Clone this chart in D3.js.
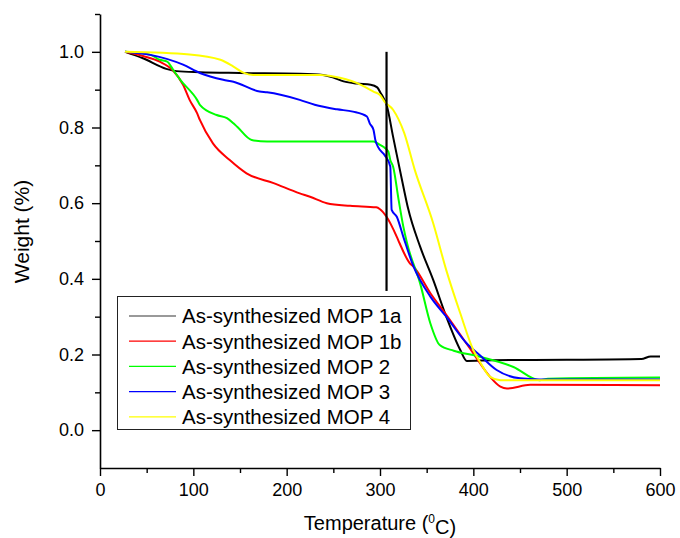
<!DOCTYPE html>
<html>
<head>
<meta charset="utf-8">
<script src="https://cdn.jsdelivr.net/npm/d3@7"></script>
<style>
    html, body { margin: 0; padding: 0; background: #fff; }
    svg { display: block; font-family: "Liberation Sans", Arial, sans-serif; }
</style>
</head>
<body>
<svg id="graph" width="680" height="538"></svg>
<script>
// TGA data: [temperature (°C), weight fraction]
const mop1a = [[26.8,1.0],[46,0.983],[71,0.955],[82,0.949],[107,0.946],[150,0.944],[214,0.942],[239,0.939],
    [250,0.932],[261,0.922],[275,0.916],[290,0.913],[297,0.906],[301,0.89],[304,0.877],[307,0.86],[314,0.776],
    [325,0.644],[330,0.587],[343,0.485],[357,0.397],[371,0.30],[386,0.212],[393,0.183],[420,0.185],[500,0.186],
    [580,0.188],[590,0.195],[600,0.195]];
const mop1b = [[26.8,1.0],[46,0.989],[64,0.974],[78.5,0.95],[89,0.913],[96,0.873],[104,0.838],[107,0.82],
    [121,0.758],[139,0.714],[157,0.679],[186,0.653],[214,0.626],[225,0.617],[243,0.60],[268,0.593],[296,0.589],
    [300,0.584],[307,0.564],[318,0.511],[321,0.494],[332,0.441],[336,0.432],[354,0.362],[371,0.305],[400,0.203],
    [418,0.141],[429,0.115],[436,0.110],[461,0.120],[600,0.119]];
const mop2 = [[26.8,1.0],[54,0.992],[64,0.979],[72,0.974],[78.5,0.952],[86,0.926],[104,0.873],[107,0.86],
    [125,0.833],[136,0.825],[143,0.811],[147,0.802],[162.5,0.767],[179,0.763],[293,0.763],[300,0.754],
    [303.5,0.749],[309,0.736],[311,0.714],[314,0.697],[320,0.608],[325,0.538],[329,0.494],[343,0.388],
    [354,0.282],[364,0.225],[379,0.21],[404,0.196],[443,0.167],[471,0.132],[480,0.136],[600,0.139]];
const mop3 = [[26.8,1.0],[54,0.992],[89,0.966],[107,0.944],[132,0.926],[143,0.921],[171,0.895],[179,0.893],
    [214,0.873],[230,0.86],[254,0.848],[271,0.842],[286,0.829],[289,0.811],[293,0.794],[295,0.767],[298,0.748],
    [305,0.727],[311,0.697],[312.5,0.582],[318,0.564],[325,0.511],[336,0.432],[354,0.353],[371,0.30],
    [393,0.229],[407,0.198],[425,0.159],[450,0.137],[471,0.134],[600,0.134]];
const mop4 = [[26.8,1.0],[96,0.993],[129,0.979],[143,0.961],[153.5,0.945],[164,0.939],[214,0.939],[236,0.939],
    [250,0.935],[275,0.918],[293,0.895],[300,0.886],[305,0.868],[314,0.847],[326,0.785],[337,0.69],[357,0.547],
    [371,0.423],[386,0.309],[400,0.212],[407,0.181],[418,0.141],[429,0.132],[600,0.132]];

const seriesNames = ['As-synthesized MOP 1a', 'As-synthesized MOP 1b', 'As-synthesized MOP 2',
    'As-synthesized MOP 3', 'As-synthesized MOP 4'];
const seriesData = [mop1a, mop1b, mop2, mop3, mop4];
const seriesColors = ['#000000', '#ff0000', '#00ff00', '#0000ff', '#ffff00'];

// vertical marker drawn on the plot
const markerTemp = 307;
const markerRange = [0.368, 1.0];

const xTicks = [0, 100, 200, 300, 400, 500, 600];
const xMinorTicks = [50, 150, 250, 350, 450, 550];
const yTicks = [0.0, 0.2, 0.4, 0.6, 0.8, 1.0];
const yMinorTicks = [0.1, 0.3, 0.5, 0.7, 0.9, 1.1];

(function () {
    let svg = d3.select('#graph');
    let x = d3.scaleLinear().domain([0, 600]).range([100, 660]);
    let y = d3.scaleLinear().domain([-0.1, 1.1]).range([468, 14]);

    // minor ticks first, then the main axes on top
    svg.append('g')
        .attr('transform', 'translate(0,468)')
        .call(d3.axisBottom(x).tickValues(xMinorTicks).tickSize(5).tickFormat(''))
        .call(g => g.select('.domain').remove())
    ;
    svg.append('g')
        .attr('transform', 'translate(100,0)')
        .call(d3.axisLeft(y).tickValues(yMinorTicks).tickSize(5).tickFormat(''))
        .call(g => g.select('.domain').remove())
    ;
    let xAxis = svg.append('g')
        .attr('transform', 'translate(0,468)')
        .call(d3.axisBottom(x).tickValues(xTicks).tickSize(8).tickSizeOuter(0).tickPadding(7).tickFormat(d3.format('d')))
    ;
    let yAxis = svg.append('g')
        .attr('transform', 'translate(100,0)')
        .call(d3.axisLeft(y).tickValues(yTicks).tickSize(8).tickSizeOuter(0).tickPadding(8).tickFormat(d3.format('.1f')))
    ;
    [xAxis, yAxis].forEach(a => {
        a.selectAll('text').style('font-size', '18px').attr('fill', '#000');
        a.select('.domain').attr('stroke-width', 1.6);
    });
    svg.selectAll('.tick line').attr('stroke', '#000').attr('stroke-width', 1.4);

    // axis titles
    let xTitle = svg.append('text')
        .attr('x', 380)
        .attr('y', 530)
        .attr('text-anchor', 'middle')
        .style('font-size', '20px')
    ;
    xTitle.append('tspan').text('Temperature (');
    xTitle.append('tspan').attr('dy', '-0.55em').style('font-size', '12px').text('0');
    xTitle.append('tspan').attr('dy', '0.55em').text('C)');

    svg.append('text')
        .attr('transform', 'translate(29,231.5) rotate(-90)')
        .attr('text-anchor', 'middle')
        .style('font-size', '21px')
        .text('Weight (%)')
    ;

    // curves
    let line = d3.line()
        .curve(d3.curveMonotoneX)
        .x(d => x(d[0]))
        .y(d => y(d[1]))
    ;
    svg.append('g')
        .selectAll('path')
        .data(seriesData)
        .enter()
        .append('path')
        .attr('d', d => line(d))
        .style('fill', 'none')
        .style('stroke-width', '2px')
        .style('stroke-linejoin', 'round')
        .style('stroke', (d, i) => seriesColors[i])
    ;

    // marker line
    svg.append('line')
        .attr('x1', x(markerTemp)).attr('x2', x(markerTemp))
        .attr('y1', y(markerRange[0])).attr('y2', y(markerRange[1]))
        .attr('stroke', '#000')
        .attr('stroke-width', 2.2)
    ;

    // legend
    let legend = svg.append('g');
    legend.append('rect')
        .attr('x', 117.5).attr('y', 296.5)
        .attr('width', 293).attr('height', 133)
        .attr('fill', '#fff')
        .attr('stroke', '#222')
        .attr('stroke-width', 1)
    ;
    let item = legend.selectAll('g.item')
        .data(seriesNames)
        .enter()
        .append('g')
        .attr('class', 'item')
        .attr('transform', (d, i) => `translate(0,${316 + i * 25.2})`)
    ;
    item.append('line')
        .attr('x1', 129).attr('x2', 176)
        .attr('stroke', (d, i) => i === 0 ? '#777' : seriesColors[i])
        .attr('stroke-width', 1.3)
    ;
    item.append('text')
        .attr('x', 182)
        .attr('dy', '0.36em')
        .style('font-size', '20.5px')
        .text(d => d)
    ;
}());
</script>
</body>
</html>
